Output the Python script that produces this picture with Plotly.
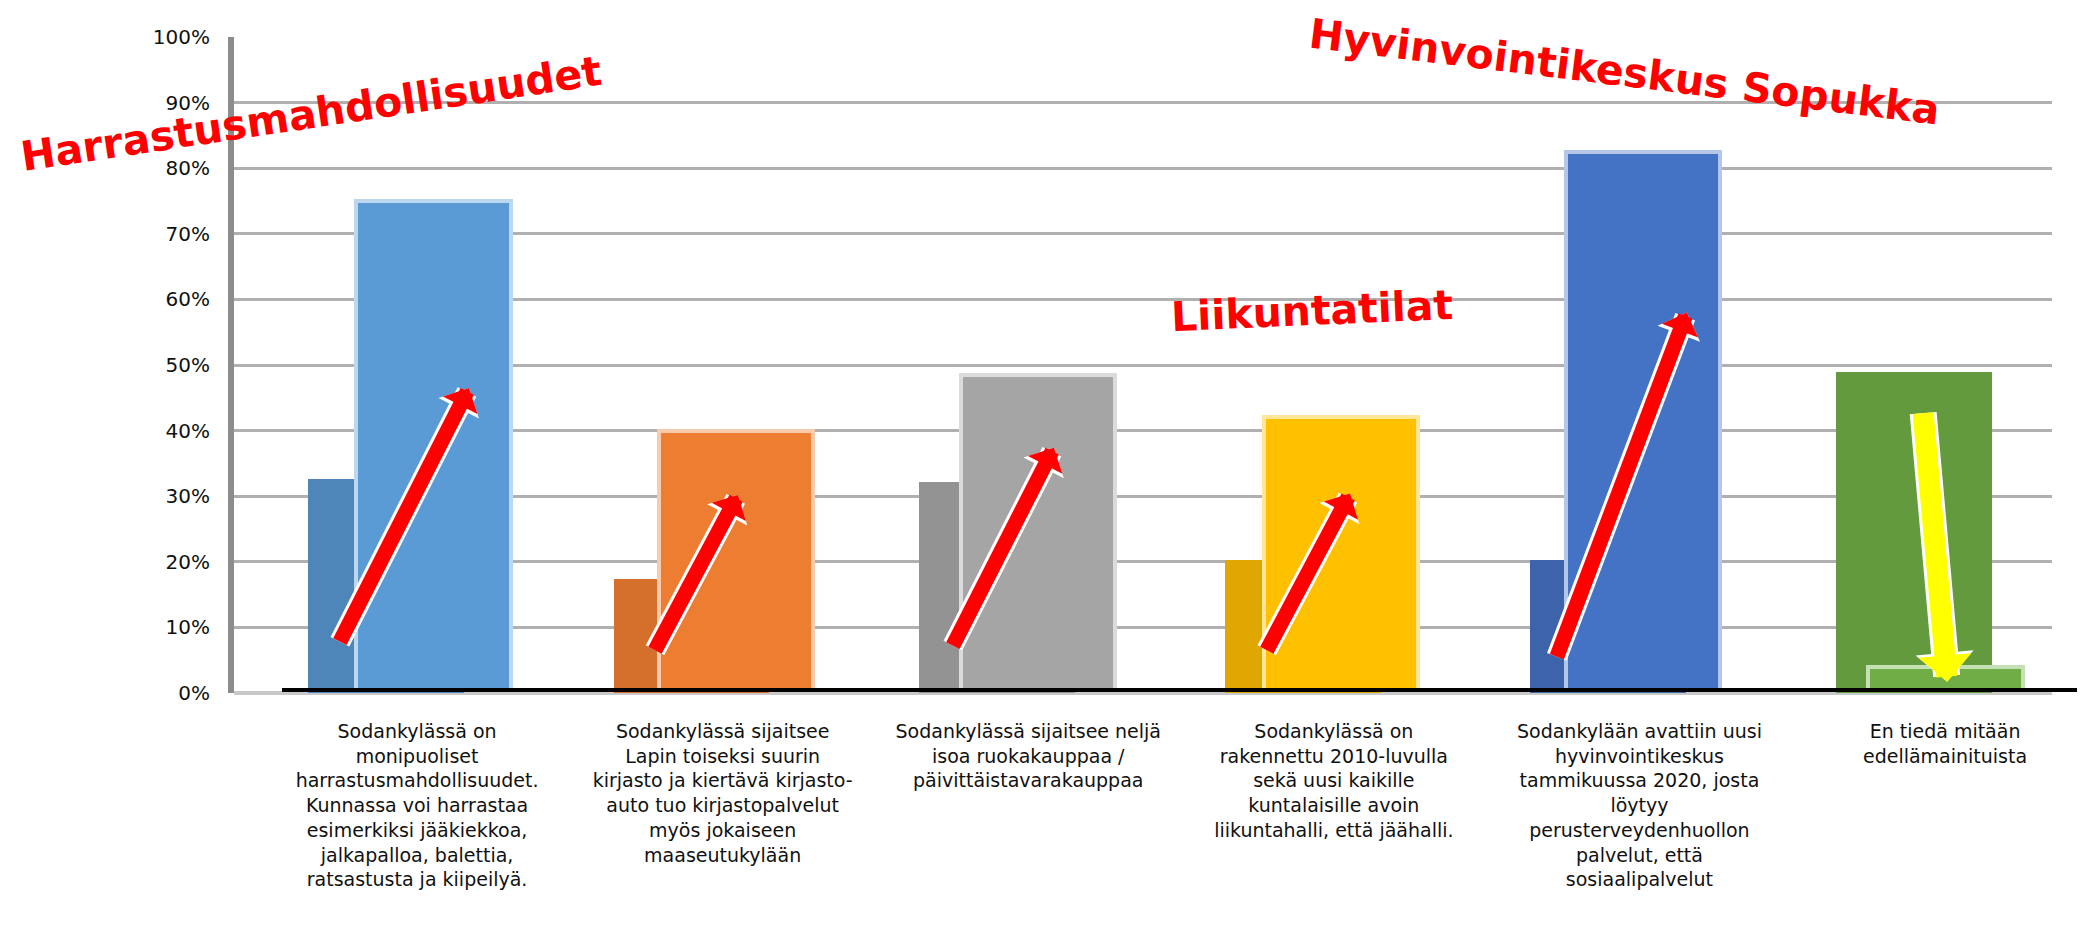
import plotly.graph_objects as go

# ---------------- data ----------------
category_labels = [
    "Sodankylässä on<br>monipuoliset<br>harrastusmahdollisuudet.<br>Kunnassa voi harrastaa<br>esimerkiksi jääkiekkoa,<br>jalkapalloa, balettia,<br>ratsastusta ja kiipeilyä.",
    "Sodankylässä sijaitsee<br>Lapin toiseksi suurin<br>kirjasto ja kiertävä kirjasto-<br>auto tuo kirjastopalvelut<br>myös jokaiseen<br>maaseutukylään",
    "Sodankylässä sijaitsee neljä<br>isoa ruokakauppaa /<br>päivittäistavarakauppaa",
    "Sodankylässä on<br>rakennettu 2010-luvulla<br>sekä uusi kaikille<br>kuntalaisille avoin<br>liikuntahalli, että jäähalli.",
    "Sodankylään avattiin uusi<br>hyvinvointikeskus<br>tammikuussa 2020, josta<br>löytyy<br>perusterveydenhuollon<br>palvelut, että<br>sosiaalipalvelut",
    "En tiedä mitään<br>edellämainituista",
]
category_index = [0, 1, 2, 3, 4, 5]

before_values = [32.6, 17.4, 32.1, 20.2, 20.2, 48.9]   # %
after_values = [75.0, 40.0, 48.5, 42.0, 82.5, 4.0]     # %

y_tick_values = [0, 10, 20, 30, 40, 50, 60, 70, 80, 90, 100]
y_tick_labels = ["0%", "10%", "20%", "30%", "40%", "50%", "60%", "70%", "80%", "90%", "100%"]

# arrows: (tail x, tail y) -> (tip x, tip y) in category units / percent
red_arrow_tails = [(-0.255, 7.6), (0.776, 6.3), (1.751, 7.0), (2.778, 6.3), (3.728, 5.3)]
red_arrow_tips = [(0.170, 46.5), (1.050, 30.2), (2.084, 37.4), (3.053, 30.4), (4.155, 58.0)]
yellow_arrow_tail = (4.928, 42.9)
yellow_arrow_tip = (5.007, 1.7)

callouts = ["Harrastusmahdollisuudet", "Hyvinvointikeskus Sopukka", "Liikuntatilat"]
callout_pos = [(-0.348, 88.2), (3.95, 94.6), (2.93, 58.2)]
callout_angle = [-8.5, 7.0, -2.5]

# ---------------- styles ----------------
before_colors = ["#4f86b9", "#d4702c", "#939393", "#dfa700", "#3d64aa", "#629a3d"]
after_colors = ["#5b9bd5", "#ed7d31", "#a5a5a5", "#ffc000", "#4472c4", "#70ad47"]
after_edge_colors = ["#bdd7ee", "#f8cbad", "#dbdbdb", "#ffe699", "#b4c7e7", "#c5e0b4"]
baseline_y = 0.45

fig = go.Figure()
fig.add_trace(go.Bar(
    x=category_index, y=before_values, width=0.51, offset=-0.357,
    marker=dict(color=before_colors, line=dict(width=0)), showlegend=False,
))
# the "after" bars are a pasted overlay with slightly tighter spacing
fig.add_trace(go.Bar(
    x=category_index, y=[v - baseline_y for v in after_values], base=baseline_y,
    width=0.51, offset=-0.25, xaxis="x2",
    marker=dict(color=after_colors, line=dict(color=after_edge_colors, width=4)),
    showlegend=False,
))

annotations = []
def arrow(tail, tip, color, width, size):
    return dict(x=tip[0], y=tip[1], ax=tail[0], ay=tail[1], xref="x", yref="y",
                axref="x", ayref="y", text="", showarrow=True, arrowhead=1,
                arrowsize=size, arrowwidth=width, arrowcolor=color, standoff=0,
                startstandoff=0)

for t, h in zip(red_arrow_tails, red_arrow_tips):
    annotations.append(arrow(t, h, "#ffffff", 21, 0.36))
annotations.append(arrow(yellow_arrow_tail, yellow_arrow_tip, "#ffffff", 27, 0.36))
for t, h in zip(red_arrow_tails, red_arrow_tips):
    annotations.append(arrow(t, h, "#ff0000", 15, 0.43))
annotations.append(arrow(yellow_arrow_tail, yellow_arrow_tip, "#ffff00", 21, 0.42))

for txt, (px, py), ang in zip(callouts, callout_pos, callout_angle):
    annotations.append(dict(
        x=px, y=py, xref="x", yref="y", text=txt, showarrow=False,
        textangle=ang, xanchor="center", yanchor="middle", borderpad=0,
        font=dict(family="DejaVu Sans", size=41, color="#ff0000", weight=700),
    ))

fig.update_layout(
    width=2077, height=921,
    margin=dict(l=226, r=33, t=29, b=236),
    paper_bgcolor="white", plot_bgcolor="white",
    barmode="overlay", bargap=0,
    annotations=annotations,
    shapes=[dict(type="line", xref="paper", yref="y", x0=0.0264, x1=1.02,
                 y0=baseline_y, y1=baseline_y, line=dict(color="black", width=4))],
    xaxis=dict(
        range=[-0.599, 5.35], tickmode="array", tickvals=category_index,
        ticktext=category_labels, showgrid=False, zeroline=False, showline=False,
        ticks="", ticklabelstandoff=25,
        tickfont=dict(family="DejaVu Sans", size=19, color="#111111"),
    ),
    xaxis2=dict(
        range=[-0.655, 5.357], overlaying="x", visible=False, showgrid=False,
        zeroline=False,
    ),
    yaxis=dict(
        range=[0, 100], tickmode="array", tickvals=y_tick_values, ticktext=y_tick_labels,
        showgrid=True, gridcolor="#b0b0b0", gridwidth=3,
        zeroline=True, zerolinecolor="#c8c8c8", zerolinewidth=4,
        showline=True, linecolor="#8c8c8c", linewidth=6,
        ticks="", ticklabelstandoff=14,
        tickfont=dict(family="DejaVu Sans", size=20, color="#111111"),
    ),
)

fig.write_html("out.html")
